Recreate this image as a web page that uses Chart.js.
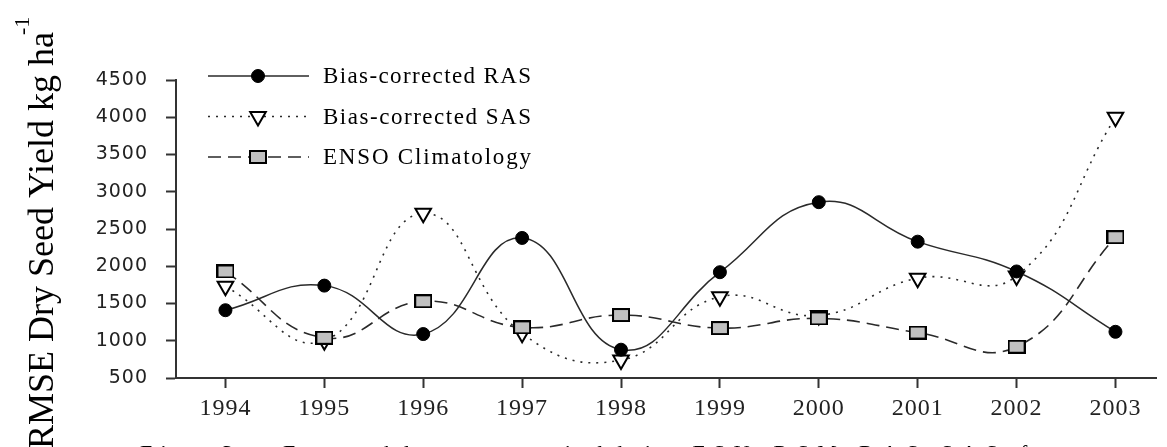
<!DOCTYPE html>
<html>
<head>
<meta charset="utf-8">
<script src="https://cdn.jsdelivr.net/npm/chart.js@4.4.1/dist/chart.umd.min.js"></script>
<style>
  html, body { margin: 0; padding: 0; background: #fff; overflow: hidden; }
  canvas { display: block; }
</style>
</head>
<body>
<canvas id="chart" width="1167" height="447"></canvas>
<script>
// values
const years = [1994, 1995, 1996, 1997, 1998, 1999, 2000, 2001, 2002, 2003]
const rasValues = [1410, 1740, 1090, 2380, 880, 1920, 2860, 2330, 1930, 1120]
const sasValues = [1730, 1000, 2710, 1100, 740, 1590, 1340, 1840, 1870, 4000]
const ensoValues = [1930, 1040, 1530, 1180, 1345, 1170, 1300, 1110, 920, 2390]
const yTicks = [500, 1000, 1500, 2000, 2500, 3000, 3500, 4000, 4500]

const seriesLabels = ["Bias-corrected RAS", "Bias-corrected SAS", "ENSO Climatology"]
const axisTitle = "RMSE Dry Seed Yield kg ha"
const axisTitleSup = "-1"
const caption = "Fig. 3.  Ensemble mean yield in FSU-RSM RAS SAS forecast"

const lineColor = "#2a2a2a"

function toPoints(values) {
  return years.map((yr, i) => ({ x: yr, y: values[i] }))
}

// grey box marker, a bit wider than tall like the original
function boxMarker(w, h) {
  let c = document.createElement("canvas")
  c.width = w
  c.height = h
  let g = c.getContext("2d")
  g.fillStyle = "#000"
  g.fillRect(0, 0, w, h)
  g.fillStyle = "#c0c0c0"
  g.fillRect(2, 2, w - 4, h - 4)
  return c
}

// spread text so it fills a given width
function spacedText(ctx, text, x, y, width) {
  ctx.letterSpacing = "0px"
  const w = ctx.measureText(text).width
  const ls = Math.max(0, (width - w) / (text.length - 1))
  ctx.letterSpacing = ls + "px"
  ctx.fillText(text, x, y)
  ctx.letterSpacing = "0px"
}

// slightly spaced tick labels, reset before the lines are drawn
const spacingPlugin = {
  id: "tickSpacing",
  beforeDraw(chart) {
    chart.ctx.letterSpacing = "1px"
  },
  beforeDatasetsDraw(chart) {
    chart.ctx.letterSpacing = "0px"
  },
}

const legendPlugin = {
  id: "insetLegend",
  afterDraw(chart) {
    const ctx = chart.ctx
    ctx.save()
    ctx.font = "23px 'Liberation Serif'"
    ctx.textBaseline = "alphabetic"
    ctx.textAlign = "left"

    chart.data.datasets.forEach(function (ds, i) {
      const y = 76 + i * 40.5
      ctx.strokeStyle = ds.borderColor
      ctx.lineWidth = ds.borderWidth
      ctx.setLineDash(ds.borderDash || [])
      ctx.beginPath()
      ctx.moveTo(208, y)
      ctx.lineTo(309, y)
      ctx.stroke()
      ctx.setLineDash([])

      ctx.fillStyle = ds.pointBackgroundColor
      ctx.strokeStyle = ds.pointBorderColor
      ctx.lineWidth = ds.pointBorderWidth
      Chart.helpers.drawPoint(ctx, {
        pointStyle: ds.pointStyle,
        rotation: ds.pointRotation || 0,
        radius: ds.pointRadius,
        borderWidth: ds.pointBorderWidth,
      }, 258, y)

      ctx.fillStyle = "#000"
      spacedText(ctx, ds.label, 323, y + 7, 208)
    })
    ctx.restore()
  },
}

const textPlugin = {
  id: "pageText",
  afterDraw(chart) {
    const ctx = chart.ctx
    ctx.save()
    ctx.fillStyle = "#000"
    ctx.textAlign = "left"
    ctx.textBaseline = "alphabetic"
    ctx.letterSpacing = "0px"

    // rotated y axis title with superscript
    ctx.save()
    ctx.translate(53, 449)
    ctx.rotate(-Math.PI / 2)
    ctx.font = "36px 'Liberation Serif'"
    spacedText(ctx, axisTitle, 0, 0, 410)
    ctx.font = "22px 'Liberation Serif'"
    ctx.fillText(axisTitleSup, 414, -24)
    ctx.restore()

    // caption, cut by the bottom edge
    ctx.font = "22px 'Liberation Serif'"
    spacedText(ctx, caption, 140, 460, 1008)
    ctx.restore()
  },
}

const config = {
  type: "line",
  data: {
    datasets: [
      {
        label: seriesLabels[0],
        data: toPoints(rasValues),
        borderColor: lineColor,
        borderWidth: 1.5,
        tension: 0.45,
        pointStyle: "circle",
        pointRadius: 6.5,
        pointBackgroundColor: "#000",
        pointBorderColor: "#000",
        pointBorderWidth: 1,
        order: 2,
      },
      {
        label: seriesLabels[1],
        data: toPoints(sasValues),
        borderColor: lineColor,
        borderWidth: 1.6,
        borderDash: [2, 6],
        tension: 0.45,
        pointStyle: "triangle",
        pointRotation: 180,
        pointRadius: 9,
        pointBackgroundColor: "#fff",
        pointBorderColor: "#000",
        pointBorderWidth: 2,
        order: 3,
      },
      {
        label: seriesLabels[2],
        data: toPoints(ensoValues),
        borderColor: lineColor,
        borderWidth: 1.6,
        borderDash: [13, 7],
        tension: 0.45,
        pointStyle: boxMarker(18, 14),
        pointRadius: 8,
        pointBackgroundColor: "#c0c0c0",
        pointBorderColor: "#000",
        pointBorderWidth: 2,
        order: 1,
      },
    ],
  },
  options: {
    responsive: false,
    animation: false,
    layout: {
      padding: { left: 0, right: 0, top: 80, bottom: 0 },
    },
    plugins: {
      legend: { display: false },
      tooltip: { enabled: false },
    },
    scales: {
      x: {
        type: "linear",
        min: 1993.5,
        max: 2003.41,
        afterBuildTicks: function (axis) {
          axis.ticks = years.map((v) => ({ value: v }))
        },
        afterFit: function (axis) {
          axis.height = 69
        },
        grid: {
          drawOnChartArea: false,
          drawTicks: true,
          tickLength: 10,
          tickColor: "#333",
          tickWidth: 2,
        },
        border: { display: true, color: "#333", width: 2 },
        ticks: {
          padding: 6,
          color: "#222",
          font: { family: "'Liberation Serif'", size: 24 },
          callback: (v) => String(v),
        },
      },
      y: {
        type: "linear",
        min: 500,
        max: 4500,
        afterBuildTicks: function (axis) {
          axis.ticks = yTicks.map((v) => ({ value: v }))
        },
        afterFit: function (axis) {
          axis.width = 176
        },
        grid: {
          drawOnChartArea: false,
          drawTicks: true,
          tickLength: 10,
          tickColor: "#333",
          tickWidth: 2,
        },
        border: { display: true, color: "#333", width: 2 },
        ticks: {
          padding: 18,
          color: "#222",
          font: { family: "'DejaVu Sans'", size: 19 },
          callback: (v) => String(v),
        },
      },
    },
  },
  plugins: [spacingPlugin, legendPlugin, textPlugin],
}

const chart = new Chart(document.getElementById("chart"), config)
</script>
</body>
</html>
